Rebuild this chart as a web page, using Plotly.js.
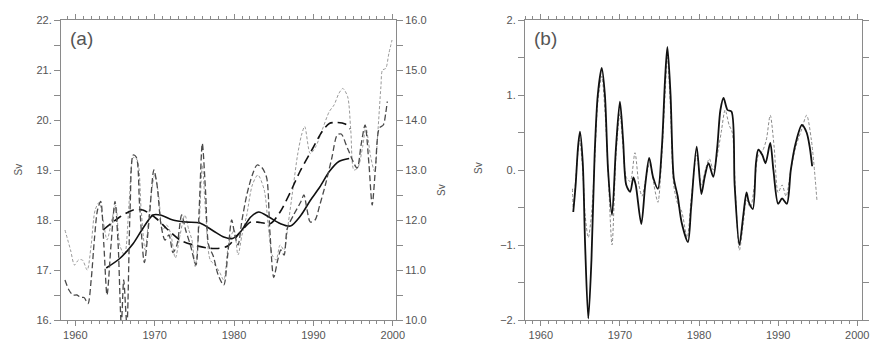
<!DOCTYPE html>
<html><head><meta charset="utf-8">
<script src="https://cdn.plot.ly/plotly-3.0.1.min.js"></script>
<style>html,body{margin:0;padding:0;background:#fff}#c{width:872px;height:344px}</style>
</head><body><div id="c"></div>
<script>
// Panel (a) — thin grey dashed series (left axis, Sv)
const s1Years = [1958.7,1959.4,1959.9,1960.4,1960.9,1961.5,1962.0,1962.5,1963.0,1963.5,1964.0,1964.6,1965.1,1965.6,1966.2,1966.8,1967.3,1967.8,1968.3,1968.8,1969.4,1970.0,1970.5,1971.0,1971.5,1972.0,1972.6,1973.2,1973.8,1974.3,1974.7,1975.1,1975.6,1976.0,1976.4,1977.0,1977.6,1978.2,1978.7,1979.3,1980.0,1980.5,1981.0,1981.6,1982.3,1983.0,1983.8,1984.3,1984.8,1985.3,1985.8,1986.3,1986.8,1987.4,1988.0,1988.5,1988.9,1989.6,1990.3,1991.1,1992.0,1992.6,1993.2,1993.7,1994.3,1994.7,1995.1,1995.6,1996.2,1996.6,1996.9,1997.2,1997.7,1998.1,1998.5,1998.7,1999.1,1999.5,1999.9];
const s1Vals  = [17.8,17.4,17.1,17.2,17.2,17.0,17.5,18.2,18.35,18.0,17.6,18.0,18.3,17.5,17.3,18.4,19.25,19.2,18.2,17.4,18.3,18.9,18.5,17.8,17.9,17.74,17.24,17.7,18.1,17.8,17.6,17.07,17.9,19.1,18.2,17.2,17.1,16.95,16.8,17.5,17.8,17.3,17.7,18.1,18.7,18.9,18.6,17.9,17.3,17.2,17.5,17.4,17.9,18.6,19.3,19.7,19.87,19.33,19.47,19.8,20.17,20.3,20.53,20.63,20.47,19.8,19.0,19.05,19.47,19.87,19.6,19.27,18.97,19.73,20.67,21.0,21.03,21.33,21.6];
// Panel (a) — darker dashed, oscillating series (right axis, Sv)
const s2Years = [1958.7,1959.2,1959.7,1960.2,1960.7,1961.1,1961.6,1962.0,1962.4,1962.8,1963.2,1963.6,1964.0,1964.5,1965.0,1965.4,1965.8,1966.1,1966.5,1966.9,1967.3,1967.7,1968.1,1968.7,1969.3,1969.9,1970.3,1970.8,1971.3,1971.8,1972.3,1972.8,1973.4,1973.9,1974.5,1975.2,1975.6,1976.0,1976.4,1976.8,1977.4,1978.0,1978.7,1979.2,1979.7,1980.1,1980.5,1981.0,1981.6,1982.3,1982.9,1983.5,1984.1,1984.5,1985.0,1985.5,1985.9,1986.3,1986.7,1987.5,1988.4,1988.8,1989.2,1989.6,1990.2,1990.8,1991.5,1992.3,1993.0,1993.5,1994.3,1995.5,1996.0,1996.5,1997.0,1997.4,1997.8,1998.3,1998.8,1999.1,1999.3];
const s2Vals  = [10.8,10.6,10.5,10.5,10.45,10.45,10.33,10.8,11.6,12.2,12.37,11.5,10.5,11.5,12.37,11.5,9.9,10.8,9.9,12.2,13.3,13.25,12.3,11.15,12.0,13.0,12.7,11.9,11.6,11.7,11.35,11.5,12.1,11.8,11.5,11.1,12.2,13.53,12.6,11.5,11.27,10.9,10.7,11.3,12.0,11.7,11.5,12.0,12.5,12.9,13.1,13.05,12.85,11.8,10.85,11.2,11.4,11.3,11.83,12.1,12.36,12.5,12.2,11.96,12.0,12.3,12.7,13.23,13.7,13.72,13.43,13.04,13.5,13.9,13.1,12.3,13.0,13.84,13.9,14.13,14.37];
// Panel (a) — long-dashed smooth curve (left axis)
const s4Years = [1963.5,1965.6,1967.3,1968.5,1970.2,1971.5,1973.2,1974.9,1976.6,1977.8,1979.2,1980.8,1982.1,1983.3,1984.6,1985.8,1987.1,1988.3,1989.9,1991.1,1992.0,1993.0,1994.0,1994.6];
const s4Vals  = [17.8,18.06,18.2,18.2,18.03,17.83,17.6,17.5,17.44,17.43,17.48,17.76,17.96,17.95,17.93,18.16,18.56,18.97,19.43,19.77,19.93,19.95,19.92,19.82];
// Panel (a) — solid smooth curve (left axis)
const s5Years = [1963.9,1965.6,1967.3,1968.5,1969.8,1970.7,1972.3,1974.0,1975.7,1977.4,1978.7,1979.8,1980.8,1982.1,1983.1,1984.4,1985.8,1987.1,1988.4,1989.6,1990.8,1992.0,1993.2,1994.5];
const s5Vals  = [17.04,17.23,17.53,17.83,18.1,18.1,18.0,17.96,17.94,17.78,17.66,17.63,17.76,18.06,18.16,18.06,17.93,17.88,18.09,18.39,18.66,18.97,19.17,19.23];
// Panel (b) — solid anomaly series
const bSolidYears = [1964.1,1964.4,1964.7,1964.95,1965.3,1965.6,1966.0,1966.4,1966.8,1967.2,1967.7,1968.1,1968.5,1969.0,1969.5,1970.0,1970.4,1970.8,1971.3,1971.7,1972.0,1972.7,1973.2,1973.7,1974.2,1974.8,1975.3,1975.7,1976.0,1976.4,1976.8,1977.3,1977.8,1978.6,1979.0,1979.7,1980.3,1980.7,1981.2,1981.8,1982.3,1982.7,1983.1,1983.6,1984.1,1984.5,1985.1,1985.6,1986.0,1986.3,1986.8,1987.2,1987.5,1988.0,1988.4,1989.0,1989.4,1990.0,1990.5,1991.1,1991.6,1992.2,1993.0,1993.6,1994.0,1994.3];
const bSolidVals  = [-0.56,-0.2,0.3,0.51,0.1,-1.0,-1.98,-1.2,0.2,1.0,1.36,1.0,0.0,-0.6,0.3,0.91,0.4,-0.2,-0.29,-0.1,-0.2,-0.72,-0.2,0.16,-0.1,-0.25,0.3,1.2,1.64,1.0,-0.1,-0.35,-0.7,-0.96,-0.5,0.31,-0.32,-0.1,0.09,-0.09,0.3,0.8,0.96,0.8,0.78,-0.2,-1.0,-0.6,-0.3,-0.43,-0.52,0.1,0.27,0.2,0.09,0.36,0.0,-0.45,-0.38,-0.45,0.0,0.35,0.6,0.5,0.3,0.05];
// Panel (b) — dashed anomaly series
const bDashYears = [1964.0,1964.1,1964.5,1964.9,1965.3,1965.6,1966.0,1966.4,1966.8,1967.2,1967.7,1968.1,1968.5,1969.0,1969.5,1970.0,1970.4,1970.8,1971.3,1971.9,1972.4,1972.8,1973.3,1973.8,1974.3,1974.8,1975.3,1975.7,1976.0,1976.4,1976.8,1977.3,1977.8,1978.5,1979.0,1979.7,1980.3,1980.8,1981.3,1981.8,1982.3,1982.8,1983.3,1983.8,1984.2,1984.6,1985.1,1985.6,1986.0,1986.5,1987.0,1987.5,1988.0,1988.5,1989.0,1989.5,1990.0,1990.5,1991.0,1991.6,1992.2,1993.0,1993.6,1994.2,1994.9];
const bDashVals  = [-0.25,-0.5,0.0,0.4,0.0,-0.6,-0.9,-0.6,0.1,0.9,1.25,0.8,0.0,-1.0,0.2,0.75,0.3,-0.1,-0.15,0.23,-0.2,-0.35,-0.1,0.1,-0.2,-0.43,0.2,1.0,1.5,0.8,-0.2,-0.45,-0.55,-0.9,-0.4,0.2,-0.2,0.0,0.15,0.0,0.2,0.5,0.8,0.6,0.5,-0.3,-1.07,-0.7,-0.4,-0.5,-0.2,0.2,0.25,0.4,0.73,0.3,-0.3,-0.2,-0.35,0.0,0.3,0.55,0.73,0.4,-0.4];

// Tick labels
const leftTicks  = [16,16.5,17,17.5,18,18.5,19,19.5,20,20.5,21,21.5,22];
const leftText   = ['16.','','17.','','18.','','19.','','20.','','21.','','22.'];
const rightTicks = [10,10.5,11,11.5,12,12.5,13,13.5,14,14.5,15,15.5,16];
const rightText  = ['10.0','','11.0','','12.0','','13.0','','14.0','','15.0','','16.0'];
const bTicks = [-2,-1.5,-1,-0.5,0,0.5,1,1.5,2];
const bText  = ['\u22122.','','\u22121.','','0.','','1.','','2.'];
const yearTicks = [1960,1970,1980,1990,2000];
const yearText  = ['1960','1970','1980','1990','2000'];

const axCol = '#8a8a8a';
const txtFont = {family:'Liberation Sans, Arial, sans-serif', size:11, color:'#555'};

function line(x, y, xa, ya, color, width, dash, shape){
  return {x:x, y:y, xaxis:xa, yaxis:ya, type:'scatter', mode:'lines',
          line:{color:color, width:width, dash:dash, shape:shape||'spline', smoothing:0.8},
          hoverinfo:'skip', showlegend:false, cliponaxis:true};
}

const data = [
  line(s1Years, s1Vals, 'x', 'y', '#9a9a9a', 1, '3px,2px'),
  line(s2Years, s2Vals, 'x', 'y2', '#4a4a4a', 1.3, '6px,3px'),
  line(s4Years, s4Vals, 'x', 'y', '#111', 1.6, '9px,5px'),
  line(s5Years, s5Vals, 'x', 'y', '#111', 1.6, 'solid'),
  line(bDashYears, bDashVals, 'x2', 'y3', '#8a8a8a', 1, '3px,2px'),
  line(bSolidYears, bSolidVals, 'x2', 'y3', '#111', 1.8, 'solid')
];

function xax(domain, range, anchor){
  return {domain:domain, range:range, anchor:anchor, tickvals:yearTicks, ticktext:yearText,
    ticks:'outside', ticklen:5, tickcolor:axCol, tickwidth:1, showline:true, linecolor:axCol, linewidth:1,
    mirror:'ticks', showgrid:false, zeroline:false, tickfont:txtFont,
    minor:{dtick:1, tick0:1960, ticks:'outside', ticklen:3, tickcolor:axCol, showgrid:false}};
}
function yax(range, tv, tt, extra){
  return Object.assign({range:range, tickvals:tv, ticktext:tt, ticks:'outside', ticklen:6,
    tickcolor:axCol, showline:true, linecolor:axCol, linewidth:1, showgrid:false, zeroline:false,
    tickfont:txtFont}, extra||{});
}

const layout = {
  width:872, height:344, margin:{l:0, r:0, t:20, b:24},
  paper_bgcolor:'#fff', plot_bgcolor:'#fff',
  xaxis: xax([61/872, 396/872], [1958.2, 2000.4], 'y'),
  xaxis2: xax([525/872, 862/872], [1958.0, 2000.6], 'y3'),
  yaxis: yax([16,22], leftTicks, leftText, {anchor:'x'}),
  yaxis2: yax([10,16], rightTicks, rightText, {anchor:'x', overlaying:'y', side:'right'}),
  yaxis3: yax([-2,2], bTicks, bText, {anchor:'x2', mirror:'ticks'}),
  annotations:[
    {text:'(a)', x:68/872, y:38, xref:'paper', yref:'paper', showarrow:false, xanchor:'left', yanchor:'middle', font:{family:'Liberation Sans, Arial, sans-serif', size:19, color:'#555'}},
    {text:'(b)', x:532/872, y:38, xref:'paper', yref:'paper', showarrow:false, xanchor:'left', yanchor:'middle', font:{family:'Liberation Sans, Arial, sans-serif', size:19, color:'#555'}},
    {text:'Sv', x:10/872, y:170, xref:'paper', yref:'paper', showarrow:false, textangle:-90, font:{family:'Liberation Sans, Arial, sans-serif', size:10, color:'#555'}},
    {text:'Sv', x:441/872, y:190, xref:'paper', yref:'paper', showarrow:false, textangle:-90, font:{family:'Liberation Sans, Arial, sans-serif', size:10, color:'#555'}},
    {text:'Sv', x:478/872, y:168, xref:'paper', yref:'paper', showarrow:false, textangle:-90, font:{family:'Liberation Sans, Arial, sans-serif', size:10, color:'#555'}}
  ]
};
// convert pixel y positions of annotations to paper fraction (plot area is 20..320 px)
layout.annotations.forEach(a => { a.y = (320 - a.y) / 300; });

Plotly.newPlot('c', data, layout, {displayModeBar:false, staticPlot:true});
</script>
</body></html>
